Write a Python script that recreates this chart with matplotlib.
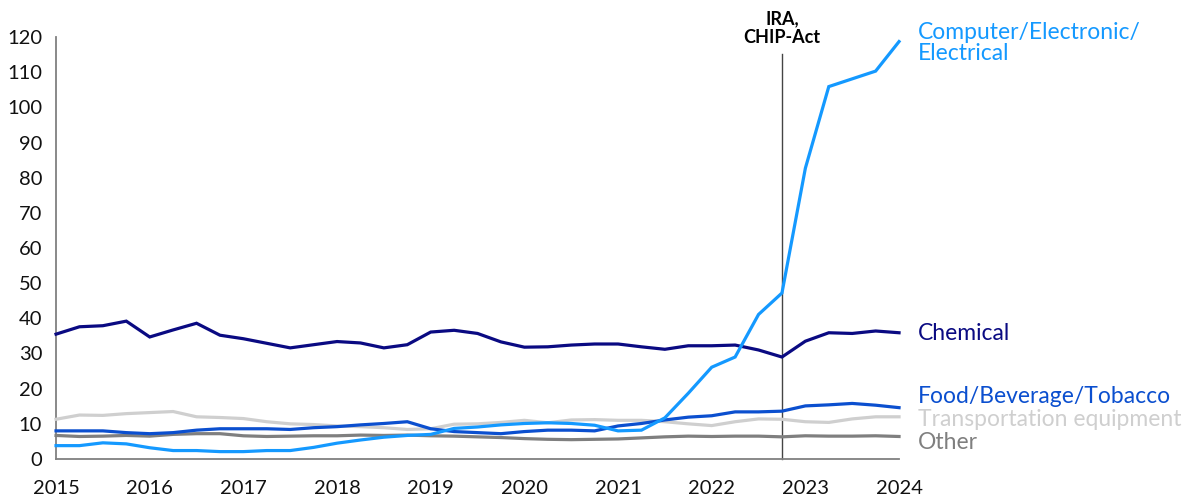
import numpy as np
import matplotlib.pyplot as plt

plt.rcParams['font.family'] = ['Lato', 'DejaVu Sans']

# quarterly observations, 2015 Q1 .. 2024 Q1
quarters = np.arange(2015, 2024.01, 0.25)

computer = [3.8, 3.8, 4.6, 4.3, 3.2, 2.4, 2.4, 2.1, 2.1, 2.4, 2.4, 3.3, 4.5,
            5.4, 6.2, 6.7, 7.0, 8.7, 9.1, 9.7, 10.1, 10.3, 10.1, 9.6, 8.0,
            8.2, 11.7, 18.7, 26.1, 29.0, 41.1, 47.2, 82.7, 105.9, 108.1,
            110.3, 118.7]
chemical = [35.5, 37.6, 37.9, 39.2, 34.7, 36.7, 38.6, 35.2, 34.2, 32.9, 31.6,
            32.5, 33.4, 33.0, 31.6, 32.5, 36.1, 36.6, 35.7, 33.3, 31.8, 31.9,
            32.4, 32.7, 32.7, 31.9, 31.2, 32.2, 32.2, 32.4, 31.0, 29.0, 33.5,
            35.9, 35.7, 36.4, 35.9]
food = [8.0, 8.0, 8.0, 7.5, 7.2, 7.5, 8.2, 8.6, 8.6, 8.6, 8.4, 8.9, 9.2, 9.7,
        10.1, 10.6, 8.6, 7.8, 7.5, 7.2, 7.8, 8.2, 8.2, 8.0, 9.4, 10.1, 11.1,
        11.9, 12.3, 13.4, 13.4, 13.6, 15.1, 15.4, 15.8, 15.3, 14.6]
transport = [11.3, 12.5, 12.4, 12.9, 13.2, 13.5, 12.0, 11.8, 11.5, 10.6, 10.0,
             9.8, 9.4, 9.2, 8.9, 8.4, 8.6, 9.9, 10.0, 10.4, 11.0, 10.3, 11.1,
             11.2, 11.0, 11.0, 10.6, 10.0, 9.5, 10.6, 11.4, 11.3, 10.6, 10.4,
             11.4, 12.0, 12.0]
other = [6.7, 6.4, 6.5, 6.7, 6.5, 7.0, 7.2, 7.2, 6.6, 6.4, 6.5, 6.6, 6.6, 6.8,
         6.7, 6.8, 6.6, 6.5, 6.3, 6.1, 5.8, 5.6, 5.5, 5.6, 5.7, 6.0, 6.3, 6.5,
         6.4, 6.5, 6.5, 6.3, 6.6, 6.5, 6.5, 6.6, 6.4]

series = [
    ("Other", other, "#7f7f7f", 4.8),
    ("Transportation equipment", transport, "#cfcfcf", 11.3),
    ("Food/Beverage/Tobacco", food, "#0b4fcf", 17.7),
    ("Chemical", chemical, "#0a0a82", 35.8),
    ("Computer/Electronic/\nElectrical", computer, "#1499ff", 118.3),
]

event_x = 2022.75
event_label = "IRA,\nCHIP-Act"
years = list(range(2015, 2025))

fig = plt.figure(figsize=(12, 5), dpi=100)
ax = fig.add_axes([0.0467, 0.082, 0.7025, 0.844])

for name, vals, color, label_y in series:
    ax.plot(quarters, vals, color=color, lw=2.3, solid_joinstyle='miter',
            clip_on=False, zorder=3)
    ax.text(2024.2, label_y, name, color=color, fontsize=16.5, va='center',
            ha='left', linespacing=1.0)

# policy marker
ax.plot([event_x, event_x], [0, 115.3], color='#444444', lw=1, clip_on=False,
        zorder=2)
ax.text(event_x, 117.4, event_label, ha='center', va='bottom',
        fontsize=13, fontweight='bold', linespacing=1.1)

ax.set_xlim(2015, 2024)
ax.set_ylim(0, 120)
ax.set_xticks(years)
ax.set_yticks(range(0, 121, 10))
ax.tick_params(length=0, labelsize=14.5, colors='#111111')
ax.tick_params(axis='x', pad=15)
ax.tick_params(axis='y', pad=10)
for s in ['top', 'right']:
    ax.spines[s].set_visible(False)
for s in ['left', 'bottom']:
    ax.spines[s].set_color('#808080')
    ax.spines[s].set_linewidth(1.3)

plt.savefig("out.png", dpi=100)
